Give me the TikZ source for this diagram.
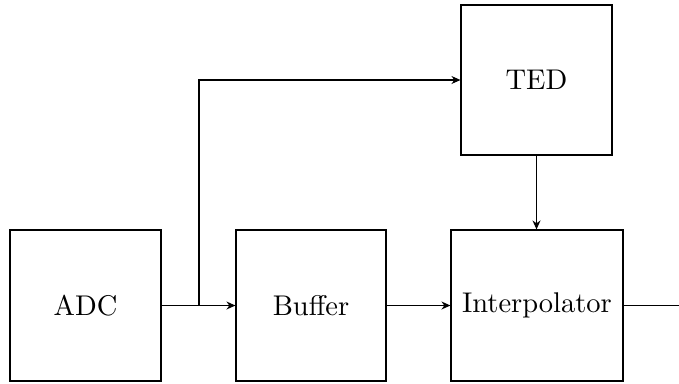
\documentclass[tikz,border=0pt]{standalone}
\usepackage{graphicx}
\usetikzlibrary{arrows.meta}
% block labels: 10pt Computer Modern, enlarged to the picture's scale
\newcommand{\blklabel}[1]{\scalebox{2.85}{\fontsize{10}{12}\selectfont #1}}
\begin{document}
\begin{tikzpicture}[x=1pt,y=-1pt,
  blk/.style={draw, line width=1.15pt, minimum width=151pt, minimum height=151pt,
    inner sep=0pt},
  wire/.style={line width=1.15pt},
  arr/.style={wire, -{Stealth[length=9pt,width=8pt]}}]
  \useasboundingbox (0,0) rectangle (679,383);
  \node[blk] (adc) at (85.5,305.5) {\blklabel{ADC}};
  \node[blk, minimum width=150pt] (buf) at (311,305.5) {\blklabel{Buffer}};
  \node[blk, minimum width=172pt] (interp) at (537,305.5) {\blklabel{Interpolator}};
  \node[blk, minimum height=150pt] (ted) at (536.5,80) {\blklabel{TED}};
  \coordinate (split) at (199,305.5);
  \coordinate (out) at (679,305.5);
  \draw[arr] (adc.east) -- (buf.west);
  \draw[arr] (split) |- (ted.west);
  \draw[arr] (ted.south) -- (ted.south |- interp.north);
  \draw[arr] (buf.east) -- (interp.west);
  \draw[wire] (interp.east) -- (out);
\end{tikzpicture}
\end{document}
